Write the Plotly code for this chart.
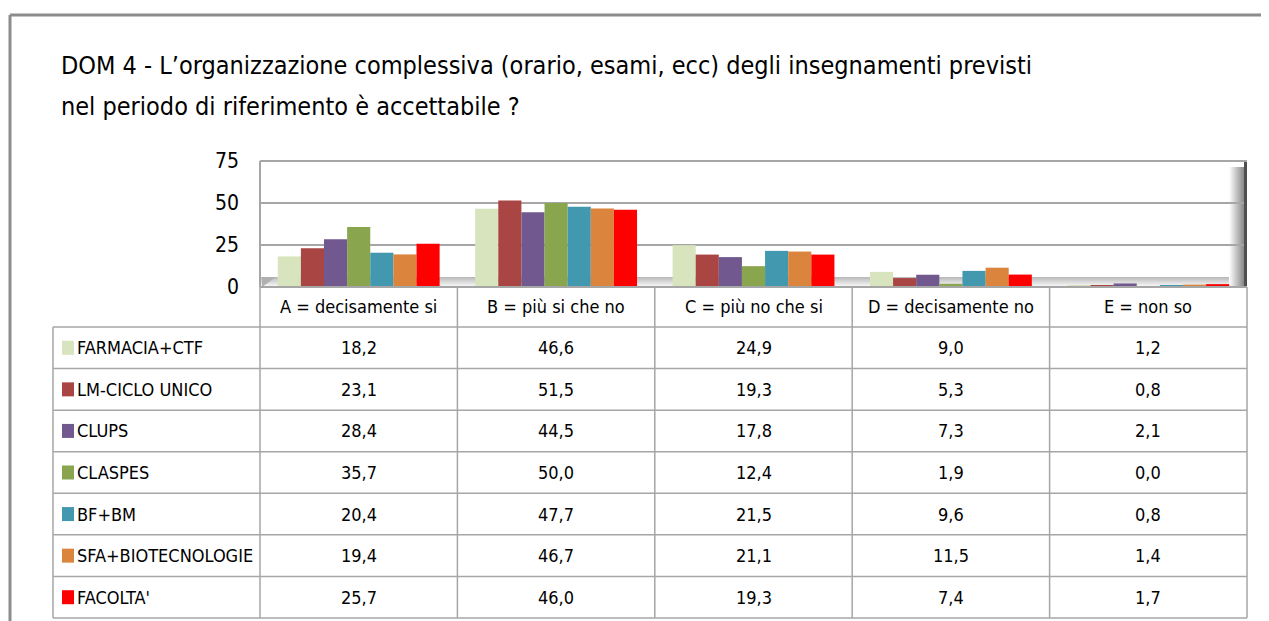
import plotly.graph_objects as go

# ---------------- data ----------------
categories = ["A = decisamente si", "B = più si che no", "C = più no che si",
              "D = decisamente no", "E = non so"]
series_names = ["FARMACIA+CTF", "LM-CICLO UNICO", "CLUPS", "CLASPES",
                "BF+BM", "SFA+BIOTECNOLOGIE", "FACOLTA'"]
farmacia_ctf = [18.2, 46.6, 24.9, 9.0, 1.2]
lm_ciclo_unico = [23.1, 51.5, 19.3, 5.3, 0.8]
clups = [28.4, 44.5, 17.8, 7.3, 2.1]
claspes = [35.7, 50.0, 12.4, 1.9, 0.0]
bf_bm = [20.4, 47.7, 21.5, 9.6, 0.8]
sfa_biotecnologie = [19.4, 46.7, 21.1, 11.5, 1.4]
facolta = [25.7, 46.0, 19.3, 7.4, 1.7]
y_tick_values = [0, 25, 50, 75]
y_tick_labels = ["0", "25", "50", "75"]
title_lines = ["DOM 4 - L’organizzazione complessiva (orario, esami, ecc) degli insegnamenti previsti",
               "nel periodo di riferimento è accettabile ?"]

series_values = [farmacia_ctf, lm_ciclo_unico, clups, claspes, bf_bm,
                 sfa_biotecnologie, facolta]
colors = ["#D7E4BD", "#A94543", "#71588F", "#89A54E", "#4198AF", "#DB843D", "#FF0000"]

# ---------------- geometry ----------------
W, H = 1269, 621
OFF = 8  # page body margin compensation
FONT = "Liberation Sans Narrow, DejaVu Sans Condensed, Arial Narrow, sans-serif"
PLOT_L, PLOT_R, PLOT_T, PLOT_B = 260, 1247, 161, 287
TABLE_L = 53
HEADER_B = 327
TABLE_B = 618
GRID = "#A6A6A6"


def px(x):
    return (x - OFF) / W


def py(y):
    return 1 - (y - OFF) / H


fig = go.Figure()
for name, vals, col in zip(series_names, series_values, colors):
    fig.add_trace(go.Bar(x=categories, y=vals, name=name, marker_color=col,
                         marker_line_width=0, showlegend=False))

shapes = []
annotations = []

# outer frame (top and left)
shapes.append(dict(type="line", xref="paper", yref="paper", x0=px(10), x1=px(1280),
                   y0=py(15), y1=py(15), line=dict(color="#8C8C8C", width=3)))
shapes.append(dict(type="line", xref="paper", yref="paper", x0=px(10), x1=px(10),
                   y0=py(15), y1=py(630), line=dict(color="#8C8C8C", width=3)))

# 3D-like floor gradient
for i in range(10):
    g = int(250 - i * 7)
    shapes.append(dict(type="rect", xref="paper", yref="paper", layer="below",
                       x0=px(PLOT_L), x1=px(PLOT_R), y0=py(PLOT_B - i), y1=py(PLOT_B - i - 1),
                       fillcolor=f"rgb({g},{g},{g})", line_width=0))
# right wall gradient
for i in range(16):
    g = int(252 - i * 8)
    shapes.append(dict(type="rect", xref="paper", yref="paper", layer="below",
                       x0=px(PLOT_R - 18 + i), x1=px(PLOT_R - 17 + i),
                       y0=py(PLOT_B), y1=py(PLOT_T + 6),
                       fillcolor=f"rgb({g},{g},{g})", line_width=0))
shapes.append(dict(type="rect", xref="paper", yref="paper",
                   x0=px(PLOT_R - 3), x1=px(PLOT_R), y0=py(PLOT_B), y1=py(PLOT_T),
                   fillcolor="#505050", line_width=0))
# bottom-left small shadow triangle
shapes.append(dict(type="path", xref="paper", yref="paper", layer="below",
                   path=f"M {px(PLOT_L+2)},{py(PLOT_B)} L {px(PLOT_L+16)},{py(PLOT_B-10)} "
                        f"L {px(PLOT_L+2)},{py(PLOT_B-10)} Z",
                   fillcolor="#B0B0B0", line_width=0))
# plot area border (top, left, bottom)
shapes.append(dict(type="line", xref="paper", yref="paper", x0=px(PLOT_L), x1=px(PLOT_R),
                   y0=py(PLOT_T), y1=py(PLOT_T), line=dict(color=GRID, width=2)))
shapes.append(dict(type="line", xref="paper", yref="paper", x0=px(PLOT_L), x1=px(PLOT_L),
                   y0=py(PLOT_T), y1=py(PLOT_B), line=dict(color=GRID, width=2)))
shapes.append(dict(type="line", xref="paper", yref="paper", x0=px(PLOT_L), x1=px(PLOT_R),
                   y0=py(PLOT_B), y1=py(PLOT_B), line=dict(color=GRID, width=2)))

# table lines
n_cols = len(categories)
col_w = (PLOT_R - PLOT_L) / n_cols
n_rows = len(series_names)
row_h = (TABLE_B - HEADER_B) / n_rows
for r in range(n_rows + 1):
    yy = HEADER_B + r * row_h
    shapes.append(dict(type="line", xref="paper", yref="paper", x0=px(TABLE_L), x1=px(PLOT_R),
                       y0=py(yy), y1=py(yy), line=dict(color=GRID, width=1.5)))
shapes.append(dict(type="line", xref="paper", yref="paper", x0=px(TABLE_L), x1=px(TABLE_L),
                   y0=py(HEADER_B), y1=py(TABLE_B), line=dict(color=GRID, width=1.5)))
for c in range(n_cols + 1):
    xx = PLOT_L + c * col_w
    shapes.append(dict(type="line", xref="paper", yref="paper", x0=px(xx), x1=px(xx),
                       y0=py(PLOT_B), y1=py(TABLE_B), line=dict(color=GRID, width=1.5)))

TXT = dict(family=FONT, size=18, color="#000000")

# header labels
for c, cat in enumerate(categories):
    annotations.append(dict(x=px(PLOT_L + (c + 0.5) * col_w), y=py((PLOT_B + HEADER_B) / 2),
                            xref="paper", yref="paper", text=cat, showarrow=False,
                            xanchor="center", yanchor="middle", font=TXT))

# rows
for r, (name, vals, col) in enumerate(zip(series_names, series_values, colors)):
    yc = HEADER_B + (r + 0.5) * row_h
    shapes.append(dict(type="rect", xref="paper", yref="paper",
                       x0=px(62), x1=px(74), y0=py(yc - 7), y1=py(yc + 7),
                       fillcolor=col, line_width=0))
    annotations.append(dict(x=px(75), y=py(yc), xref="paper", yref="paper", text=name,
                            showarrow=False, xanchor="left", yanchor="middle", font=TXT))
    for c, v in enumerate(vals):
        annotations.append(dict(x=px(PLOT_L + (c + 0.5) * col_w), y=py(yc),
                                xref="paper", yref="paper",
                                text=f"{v:.1f}".replace(".", ","), showarrow=False,
                                xanchor="center", yanchor="middle", font=TXT))

# title
for i, line in enumerate(title_lines):
    annotations.append(dict(x=px(59), y=py(66 + i * 40), xref="paper", yref="paper",
                            text=line, showarrow=False, xanchor="left", yanchor="middle",
                            font=dict(family=FONT, size=25, color="#000000")))

fig.update_layout(
    width=W, height=H, margin=dict(l=0, r=0, t=0, b=0, pad=0), autosize=False,
    paper_bgcolor="white", plot_bgcolor="white",
    barmode="group", bargap=0.18, bargroupgap=0,
    xaxis=dict(domain=[px(PLOT_L), px(PLOT_R)], showticklabels=False, showgrid=False,
               zeroline=False, showline=False, ticks="", automargin=False),
    yaxis=dict(domain=[py(PLOT_B), py(PLOT_T)], range=[0, 75], tickvals=y_tick_values,
               ticktext=y_tick_labels, showgrid=True, gridcolor=GRID, gridwidth=2,
               zeroline=False, showline=False, ticks="", ticklabelstandoff=20,
               automargin=False,
               tickfont=dict(family=FONT, size=21, color="#000000")),
    shapes=shapes, annotations=annotations,
)

fig.write_html("out.html")
